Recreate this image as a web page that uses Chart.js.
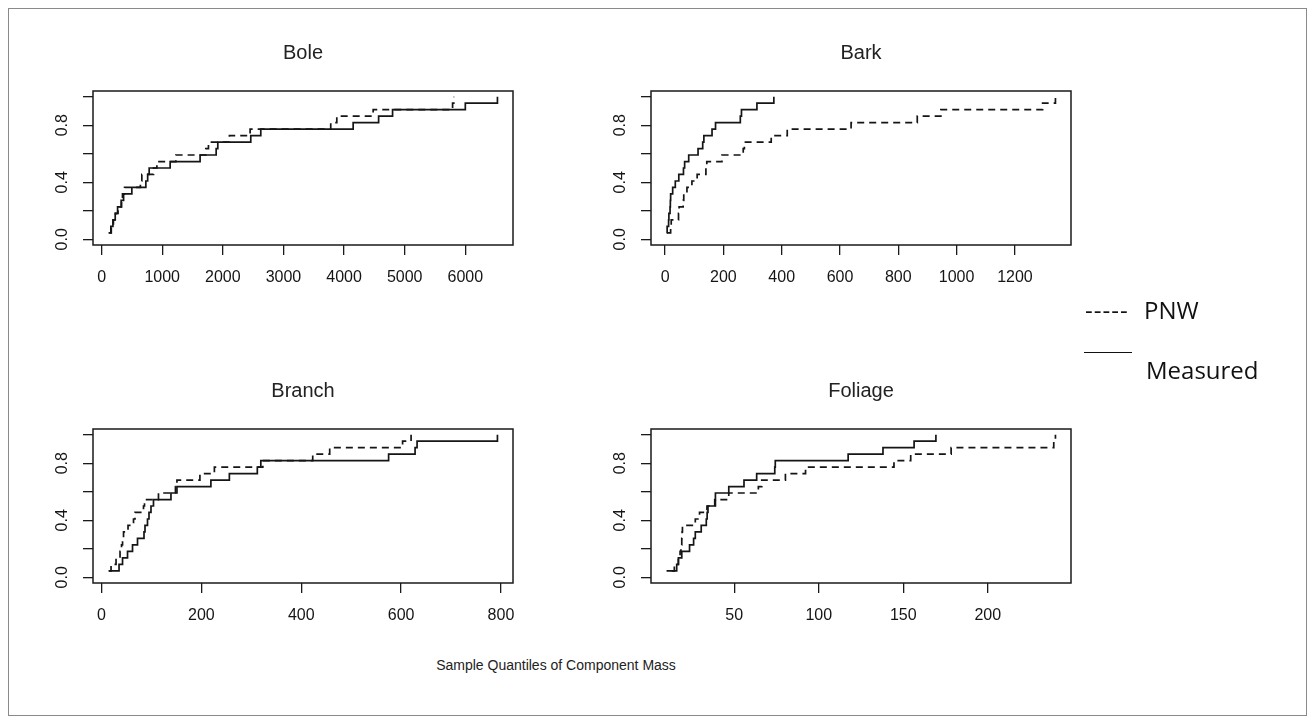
<!DOCTYPE html>
<html>
<head>
<meta charset="utf-8">
<script src="https://cdn.jsdelivr.net/npm/chart.js@4.4.1/dist/chart.umd.min.js"></script>
<style>
  body { margin: 0; background: #fff; width: 1315px; height: 724px; position: relative; overflow: hidden; }
  #frame { position: absolute; left: 8px; top: 8px; width: 1299px; height: 708px; border: 1px solid #8a8a8a; box-sizing: border-box; }
  canvas { position: absolute; }
  .lg { position: absolute; font-family: 'Open Sans', sans-serif; font-size: 24px; line-height: 24px; color: #111; white-space: nowrap; }
  #xlab { position: absolute; left: 0; width: 1112px; top: 657px; text-align: center; font-family: 'Liberation Sans', Arial, sans-serif; font-size: 14px; line-height: 16px; color: #222; }
</style>
</head>
<body>
<div id="frame"></div>
<canvas id="bole" width="540" height="274" style="left:33px;top:31px"></canvas>
<canvas id="bark" width="540" height="274" style="left:591px;top:31px"></canvas>
<canvas id="branch" width="540" height="274" style="left:33px;top:369px"></canvas>
<canvas id="foliage" width="540" height="274" style="left:591px;top:369px"></canvas>

<div class="lg" style="left:1085px;top:298px;letter-spacing:1px">-----</div>
<div class="lg" style="left:1144px;top:298px">PNW</div>
<div style="position:absolute;left:1084px;top:352px;width:48px;height:0;border-top:1.5px solid #111"></div>
<div class="lg" style="left:1146px;top:358px">Measured</div>
<div id="xlab">Sample Quantiles of Component Mass</div>

<script>
// cumulative probability of each sorted sample (n = 22)
const probLevels = [0.045, 0.091, 0.136, 0.182, 0.227, 0.273, 0.318, 0.364, 0.409, 0.455, 0.5,
                    0.545, 0.591, 0.636, 0.682, 0.727, 0.773, 0.818, 0.864, 0.909, 0.955, 1.0];

// sorted sample quantiles
const boleMeasured = [115, 153, 187, 225, 264, 323, 363, 499, 730, 760, 785, 1131, 1625, 1890, 1917, 2461, 2626, 4150, 4570, 4800, 6000, 6530];
const bolePNW      = [130, 160, 195, 230, 270, 330, 345, 379, 640, 664, 857, 912, 1225, 1719, 1763, 2109, 2450, 3780, 3880, 4480, 5790, 5810];

const barkMeasured = [5, 7, 12, 13, 17, 18, 19, 26, 35, 47, 63, 67, 81, 113, 129, 133, 161, 173, 258, 262, 315, 373];
const barkPNW      = [8, 19, 21, 46, 48, 62, 64, 75, 92, 110, 140, 143, 195, 268, 272, 364, 419, 638, 865, 946, 1295, 1339];

const branchMeasured = [14, 35, 42, 52, 62, 72, 85, 87, 92, 95, 99, 104, 139, 151, 219, 256, 312, 319, 575, 628, 632, 793];
const branchPNW      = [15, 19, 29, 37, 40, 42, 44, 53, 64, 67, 84, 86, 114, 148, 151, 197, 226, 323, 423, 457, 603, 620];

const foliageMeasured = [10, 16, 17, 19, 23.6, 26, 27, 30.5, 33.5, 34, 34.5, 38.5, 38.9, 46.8, 55.8, 63.3, 74, 74.3, 117.4, 138, 156.4, 169.3];
const foliagePNW      = [13, 14.6, 17, 18, 18.5, 19, 19.2, 19.4, 27, 29.5, 33.9, 38.9, 46.8, 64.3, 66.3, 80.3, 92.2, 144.5, 154.4, 178.3, 239, 240];

// tick labels
const boleTicks = [0, 1000, 2000, 3000, 4000, 5000, 6000];
const barkTicks = [0, 200, 400, 600, 800, 1000, 1200];
const branchTicks = [0, 200, 400, 600, 800];
const foliageTicks = [50, 100, 150, 200];
const yTicks = [0, 0.2, 0.4, 0.6, 0.8, 1.0];
const yLabels = [0, 0.4, 0.8];

Chart.defaults.font.family = "'Liberation Sans', Arial, sans-serif";
Chart.defaults.font.size = 16;
Chart.defaults.color = '#151515';

// frame round the plot region, like R's box()
const boxPlugin = {
  id: 'box',
  afterDatasetsDraw(chart) {
    const a = chart.chartArea, ctx = chart.ctx;
    ctx.save();
    ctx.strokeStyle = '#1a1a1a';
    ctx.lineWidth = 1.5;
    ctx.strokeRect(a.left, a.top, a.right - a.left, a.bottom - a.top);
    ctx.restore();
  }
};

function toPoints(xs) {
  return xs.map((x, i) => ({ x: x, y: probLevels[i] }));
}

// R pads the data range by 4% on each side
function padRange(a, b) {
  const lo = Math.min(...a, ...b), hi = Math.max(...a, ...b);
  const pad = (hi - lo) * 0.04;
  return [lo - pad, hi + pad];
}

function makePanel(id, title, measured, pnw, xTicks) {
  const xr = padRange(measured, pnw);
  new Chart(document.getElementById(id), {
    type: 'line',
    data: {
      datasets: [
        { label: 'PNW', data: toPoints(pnw), stepped: 'before', borderColor: '#151515', borderWidth: 1.7, borderDash: [7, 5], pointRadius: 0, fill: false },
        { label: 'Measured', data: toPoints(measured), stepped: 'before', borderColor: '#151515', borderWidth: 1.7, pointRadius: 0, fill: false }
      ]
    },
    options: {
      responsive: false,
      animation: false,
      layout: { padding: 0 },
      plugins: {
        legend: { display: false },
        tooltip: { enabled: false },
        title: { display: true, text: title, color: '#222', font: { size: 20, weight: 'normal', lineHeight: 1.2 }, padding: { top: 10, bottom: 26 } }
      },
      scales: {
        x: {
          type: 'linear', position: 'bottom', min: xr[0], max: xr[1],
          grid: { display: true, drawOnChartArea: false, drawTicks: true, tickLength: 10, color: '#1a1a1a', lineWidth: 1.3 },
          border: { display: false },
          afterBuildTicks: s => { s.ticks = xTicks.map(v => ({ value: v })); },
          afterFit: s => { s.height = 60; },
          ticks: { autoSkip: false, maxRotation: 0, padding: 13, callback: v => String(v) }
        },
        y: {
          type: 'linear', position: 'left', min: -0.04, max: 1.04,
          grid: { display: true, drawOnChartArea: false, drawTicks: true, tickLength: 10, color: '#1a1a1a', lineWidth: 1.3 },
          border: { display: false },
          afterBuildTicks: s => { s.ticks = yTicks.map(v => ({ value: v })); },
          afterFit: s => { s.width = 60; },
          ticks: { minRotation: 90, maxRotation: 90, crossAlign: 'center', padding: 9,
                   callback: v => yLabels.some(l => Math.abs(l - v) < 1e-9) ? v.toFixed(1) : '' }
        },
        yR: {
          type: 'linear', position: 'right', display: true,
          grid: { display: false }, border: { display: false }, ticks: { display: false },
          afterFit: s => { s.width = 60; }
        }
      }
    },
    plugins: [boxPlugin]
  });
}

makePanel('bole', 'Bole', boleMeasured, bolePNW, boleTicks);
makePanel('bark', 'Bark', barkMeasured, barkPNW, barkTicks);
makePanel('branch', 'Branch', branchMeasured, branchPNW, branchTicks);
makePanel('foliage', 'Foliage', foliageMeasured, foliagePNW, foliageTicks);
</script>
</body>
</html>
